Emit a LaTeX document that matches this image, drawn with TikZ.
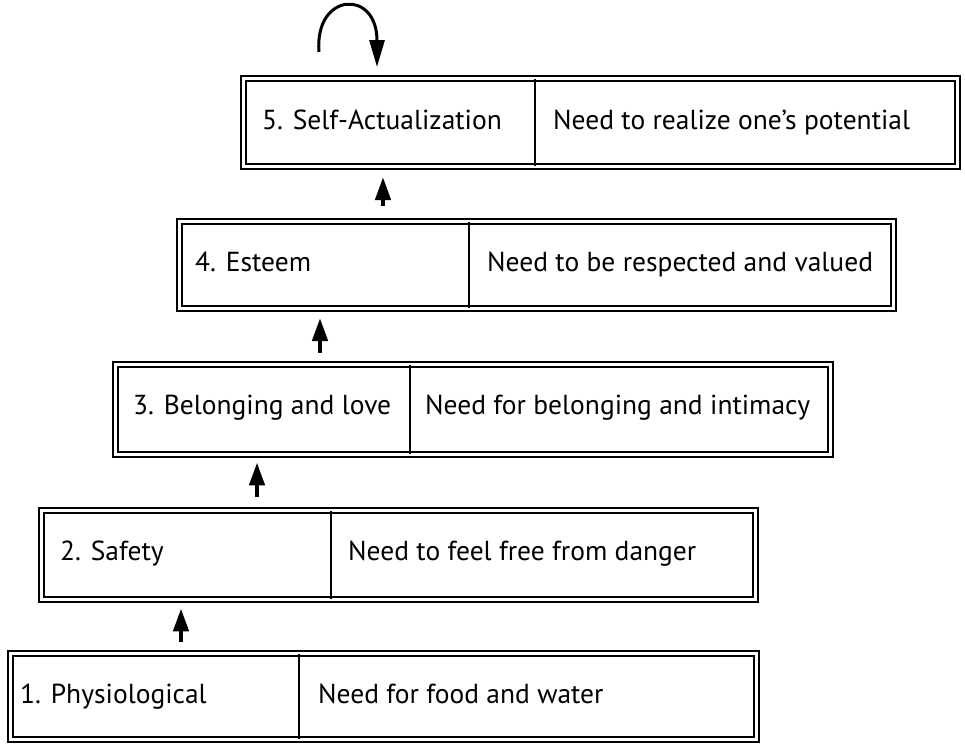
\documentclass[tikz,border=0pt]{standalone}
\usepackage{fontspec}
\setmainfont{PT Sans}
\usetikzlibrary{arrows.meta}

\begin{document}
\begin{tikzpicture}[x=1pt, y=-1pt,
  % double-ruled frame of one level (path runs through the middle of the two rules)
  level/.style={draw=black, line width=2.2pt, double=white, double distance=2.6pt,
    rectangle, inner sep=0pt, outer sep=0pt, anchor=north west},
  divider/.style={line width=2pt},
  label/.style={anchor=base west, inner sep=0pt, font=\fontsize{27.5}{32}\selectfont},
  uparrow/.style={line width=4.5pt, -{Triangle[length=23pt, width=15pt]}},
  looparrow/.style={line width=3pt, -{Triangle[length=27pt, width=15pt]}}
]
\useasboundingbox (0,0) rectangle (965,745);

% levels, from the top of the hierarchy down
\node[level, minimum width=713.8pt, minimum height=87.8pt] (L5) at (243.6,78.6) {};
\node[level, minimum width=713.8pt, minimum height=86.8pt] (L4) at (179.6,221.6) {};
\node[level, minimum width=714.8pt, minimum height=89.8pt] (L3) at (115.6,364.6) {};
\node[level, minimum width=713.8pt, minimum height=88.8pt] (L2) at (41.6,510.6) {};
\node[level, minimum width=745.8pt, minimum height=85.8pt] (L1) at (10.6,653.6) {};

% column dividers between the name and the description
\draw[divider] (535,0 |- L5.north) -- (535,0 |- L5.south);
\draw[divider] (469,0 |- L4.north) -- (469,0 |- L4.south);
\draw[divider] (410,0 |- L3.north) -- (410,0 |- L3.south);
\draw[divider] (331,0 |- L2.north) -- (331,0 |- L2.south);
\draw[divider] (299,0 |- L1.north) -- (299,0 |- L1.south);

% texts
\node[label] (n5) at (262,129) {5. Self-Actualization};
\node[label] (d5) at (553,129) {Need to realize one’s potential};
\node[label] (n4) at (195,271) {4. Esteem};
\node[label] (d4) at (487,271) {Need to be respected and valued};
\node[label] (n3) at (133,414) {3. Belonging and love};
\node[label] (d3) at (425,414) {Need for belonging and intimacy};
\node[label] (n2) at (60,560) {2. Safety};
\node[label] (d2) at (348,560) {Need to feel free from danger};
\node[label] (n1) at (20,703) {1. Physiological};
\node[label] (d1) at (318,703) {Need for food and water};

% upward arrows between consecutive levels
\draw[uparrow, shorten <=16pt, shorten >=10.6pt] (383,0 |- L4.north) -- (383,0 |- L5.south);
\draw[uparrow, shorten <=12pt, shorten >=9.6pt]  (320,0 |- L3.north) -- (320,0 |- L4.south);
\draw[uparrow, shorten <=14pt, shorten >=8pt]    (257,0 |- L2.north) -- (257,0 |- L3.south);
\draw[uparrow, shorten <=12pt, shorten >=9pt]    (181,0 |- L1.north) -- (181,0 |- L2.south);

% self-actualization feeds back into itself
\coordinate (loopstart) at (319,52);
\coordinate (loopbend) at (377,42);
\draw[looparrow, shorten >=11.6pt] (loopstart) .. controls (314,-8) and (378,-12) .. (loopbend)
  -- (377,0 |- L5.north);
\end{tikzpicture}
\end{document}
